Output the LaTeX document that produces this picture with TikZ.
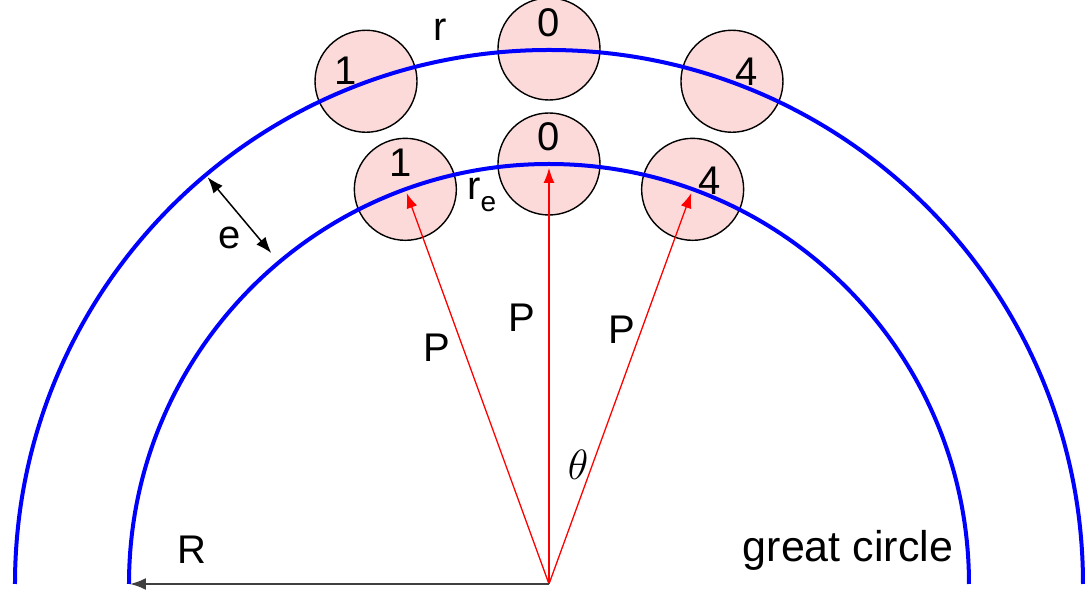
\documentclass[tikz,border=0pt]{standalone}
\usepackage{fontspec}
\setmainfont{Liberation Sans}
\usetikzlibrary{arrows.meta,calc}

\definecolor{ballpink}{RGB}{252,218,218}

\begin{document}
\begin{tikzpicture}[x=1pt, y=1pt,
    ball/.style={circle, draw=black, line width=1.4pt, fill=ballpink, minimum size=102pt, inner sep=0pt},
    orbit/.style={blue, line width=4pt},
    ray/.style={red, line width=1.3pt, -{Latex[length=15pt,width=11pt]}},
    radius/.style={draw=black!75, line width=2pt, -{Latex[length=16pt,width=12pt]}},
    gap/.style={black, line width=1.5pt, {Latex[length=16pt,width=12pt]}-{Latex[length=16pt,width=12pt]}},
    lbl/.style={font=\fontsize{40}{44}\selectfont, inner sep=0pt}
    ]
    \useasboundingbox (-549,-10) rectangle (536,584);
    \coordinate (C) at (0,0);

    % balls on the great circle
    \node[ball] (o0) at (90:535) {};
    \node[ball] (o1) at (110:535) {};
    \node[ball] (o4) at (70:535) {};
    % balls on the inner circle
    \node[ball] (i0) at (90:420) {};
    \node[ball] (i1) at (110:420) {};
    \node[ball] (i4) at (70:420) {};

    \draw[orbit] (180:534) arc (180:0:534);
    \draw[orbit] (180:420) arc (180:0:420);

    \node[lbl] (no0) at ($(o0)+(0,26)$) {0};
    \node[lbl] (no1) at ($(o1)+(-20,11)$) {1};
    \node[lbl] (no4) at ($(o4)+(15,10)$) {4};
    \node[lbl] (ni0) at ($(i0)+(0,27)$) {0};
    \node[lbl] (ni1) at ($(i1)+(-5,27)$) {1};
    \node[lbl] (ni4) at ($(i4)+(17,9)$) {4};

    \draw[ray, shorten >=4pt] (C) -- (i1.center);
    \draw[ray, shorten >=4pt] (C) -- (i0.center);
    \draw[ray, shorten >=4pt] (C) -- (i4.center);

    \coordinate (rend) at (180:419);
    \draw[radius] (C) -- (rend);

    \coordinate (e1) at (130:531);
    \coordinate (e2) at (130:432);
    \draw[gap] (e1) -- (e2);

    \node[lbl] (rlbl) at (-109,554) {r};
    \node[lbl, anchor=base west] (relbl) at (-82,384) {r\raisebox{-12pt}{\fontsize{28}{30}\selectfont e}};
    \node[lbl] (elbl) at (-319,346) {e};
    \node[lbl] (p1) at (-112,236) {P};
    \node[lbl] (p0) at (-27,266) {P};
    \node[lbl] (p4) at (73,254) {P};
    \node[lbl] (th) at (29,119) {\scalebox{1.7}{$\theta$}};
    \node[lbl] (Rlbl) at (-357,34) {R};
    \node[lbl, font=\fontsize{43}{46}\selectfont] (gc) at (299,34) {great circle};
\end{tikzpicture}
\end{document}
